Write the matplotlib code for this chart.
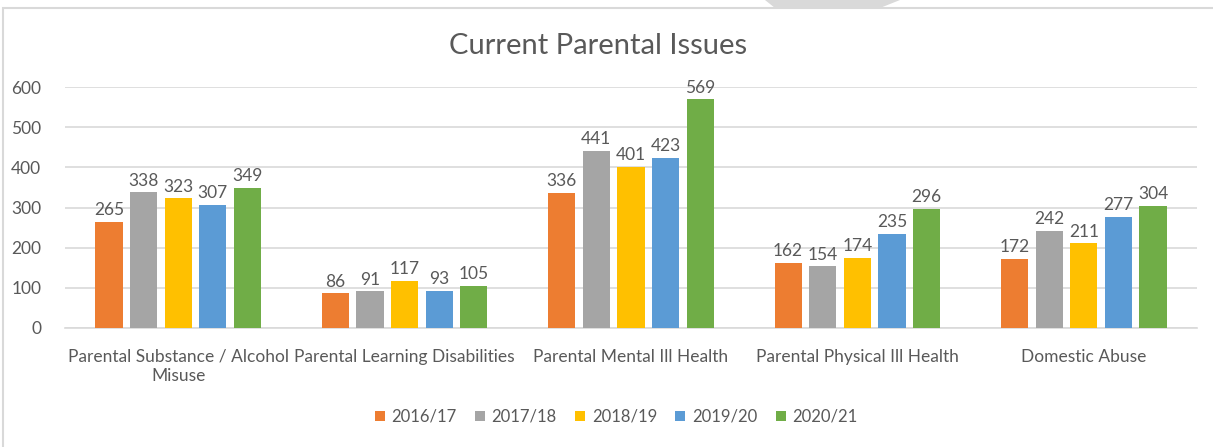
import numpy as np
import matplotlib.pyplot as plt
from matplotlib.patches import Rectangle, Polygon

categories = ["Parental Substance / Alcohol\nMisuse", "Parental Learning Disabilities",
              "Parental Mental Ill Health", "Parental Physical Ill Health", "Domestic Abuse"]
years = ["2016/17", "2017/18", "2018/19", "2019/20", "2020/21"]
v_2016 = [265, 86, 336, 162, 172]
v_2017 = [338, 91, 441, 154, 242]
v_2018 = [323, 117, 401, 174, 211]
v_2019 = [307, 93, 423, 235, 277]
v_2020 = [349, 105, 569, 296, 304]
series = [v_2016, v_2017, v_2018, v_2019, v_2020]
colors = ["#ED7D31", "#A5A5A5", "#FFC000", "#5B9BD5", "#70AD47"]

plt.rcParams['font.family'] = ['Lato', 'DejaVu Sans']
txt = "#595959"

fig = plt.figure(figsize=(12.13, 4.47), dpi=100)
W, H = 1213, 447

# chart frame and the grey tab at the top
fig.patches.append(Rectangle((3 / W, -0.1), 1.2, (H - 8) / H + 0.1, transform=fig.transFigure,
                             fill=False, edgecolor="#D9D9D9", linewidth=1.5))
fig.patches.append(Polygon([(765 / W, 1.0), (900 / W, 1.0), (880 / W, 1 - 8 / H), (775 / W, 1 - 8 / H)],
                           closed=True, transform=fig.transFigure, facecolor="#D9D9D9", edgecolor="none"))

ax = fig.add_axes([65 / W, 1 - 328 / H, (1197 - 65) / W, (328 - 87) / H])
x = np.arange(len(categories))
slot = 0.153
bw = 0.12
for i, (vals, c, yr) in enumerate(zip(series, colors, years)):
    pos = x + (i - 2) * slot
    bars = ax.bar(pos, vals, bw, color=c, label=yr, zorder=3)
    for p, v in zip(pos, vals):
        ax.text(p, v + 9, str(v), ha="center", va="bottom", fontsize=12.5, color=txt)

ax.set_xlim(-0.5, len(categories) - 0.5)
ax.set_ylim(0, 600)
ax.set_yticks(range(0, 601, 100))
ax.yaxis.grid(True, color="#D9D9D9", linewidth=1.2, zorder=0)
for s in ["top", "right", "left"]:
    ax.spines[s].set_visible(False)
ax.spines["bottom"].set_color("#D9D9D9")
ax.spines["bottom"].set_linewidth(1.2)
ax.tick_params(axis="both", length=0, labelsize=12.5, labelcolor=txt)
ax.tick_params(axis="y", pad=17)
ax.tick_params(axis="x", pad=15)
ax.set_xticks(x)
ax.set_xticklabels(categories, linespacing=1.25)

fig.text(598 / W, 1 - 46 / H, "Current Parental Issues", ha="center", va="center", fontsize=21, color=txt)

fig.legend(loc="center", bbox_to_anchor=(616 / W, 1 - 417 / H), ncol=5, frameon=False,
           fontsize=12, labelcolor=txt, handlelength=0.6, handleheight=0.6, handletextpad=0.4,
           columnspacing=1.1)

fig.savefig("out.png", dpi=100)
